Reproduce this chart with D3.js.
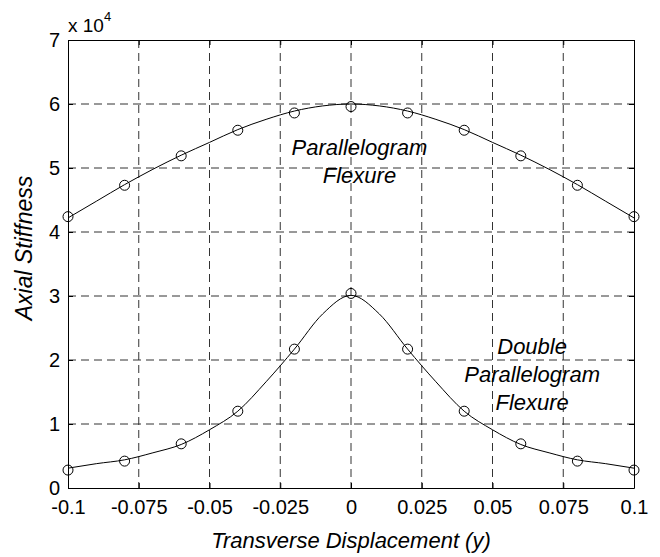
<!DOCTYPE html>
<html>
<head>
<meta charset="utf-8">
<script src="https://cdn.jsdelivr.net/npm/d3@7"></script>
<style>
  body { margin: 0; background: #fff; }
  text { font-family: "Liberation Sans", Arial, sans-serif; fill: #000; }
</style>
</head>
<body>
<svg id="chart" width="660" height="557"></svg>
<script>
// values in units of 10^4
var xTicks = [-0.1, -0.075, -0.05, -0.025, 0, 0.025, 0.05, 0.075, 0.1];
var xTickLabels = ["-0.1", "-0.075", "-0.05", "-0.025", "0", "0.025", "0.05", "0.075", "0.1"];
var yTicks = [0, 1, 2, 3, 4, 5, 6, 7];

// measured points (circles)
var sampleX = [-0.1, -0.08, -0.06, -0.04, -0.02, 0, 0.02, 0.04, 0.06, 0.08, 0.1];
var parallelogramPts = [4.24, 4.73, 5.19, 5.59, 5.86, 5.96, 5.86, 5.59, 5.19, 4.73, 4.24];
var doublePts = [0.28, 0.42, 0.69, 1.20, 2.17, 3.04, 2.17, 1.20, 0.69, 0.42, 0.28];

// model curves (solid lines)
var curveX = [-0.1, -0.09, -0.08, -0.07, -0.06, -0.05, -0.04, -0.03, -0.02, -0.01, 0,
              0.01, 0.02, 0.03, 0.04, 0.05, 0.06, 0.07, 0.08, 0.09, 0.1];
var parallelogramCurve = [4.22, 4.48, 4.74, 4.98, 5.20, 5.40, 5.60, 5.76, 5.89, 5.97, 6.00,
                          5.97, 5.89, 5.76, 5.60, 5.40, 5.20, 4.98, 4.74, 4.48, 4.22];
var doubleCurve = [0.31, 0.38, 0.44, 0.55, 0.68, 0.91, 1.20, 1.66, 2.17, 2.72, 3.01,
                   2.72, 2.17, 1.66, 1.20, 0.91, 0.68, 0.55, 0.44, 0.38, 0.31];

var svg = d3.select("#chart"),
  margin = {top: 40, right: 26, bottom: 69, left: 68},
  width = +svg.attr("width") - margin.left - margin.right,
  height = +svg.attr("height") - margin.top - margin.bottom;

var x = d3.scaleLinear().domain([-0.1, 0.1]).range([0, width]),
  y = d3.scaleLinear().domain([0, 7]).range([height, 0]);

var g = svg.append("g")
  .attr("transform", "translate(" + margin.left + "," + margin.top + ")");

// grid
g.selectAll(".vgrid")
  .data(xTicks.slice(1, -1))
  .enter().append("line")
  .attr("x1", function(d) { return x(d); })
  .attr("x2", function(d) { return x(d); })
  .attr("y1", 0).attr("y2", height)
  .attr("stroke", "#333").attr("stroke-dasharray", "8,5");

g.selectAll(".hgrid")
  .data(yTicks.slice(1, -1))
  .enter().append("line")
  .attr("y1", function(d) { return y(d); })
  .attr("y2", function(d) { return y(d); })
  .attr("x1", 0).attr("x2", width)
  .attr("stroke", "#333").attr("stroke-dasharray", "8,5");

// axes
g.append("g")
  .attr("transform", "translate(0," + height + ")")
  .call(d3.axisBottom(x).tickValues(xTicks).tickSizeInner(-5).tickSizeOuter(0).tickPadding(12)
    .tickFormat(function(d, i) { return xTickLabels[i]; }));

g.append("g")
  .call(d3.axisLeft(y).tickValues(yTicks).tickSizeInner(-5).tickSizeOuter(0).tickPadding(8)
    .tickFormat(d3.format("d")));

g.append("g")
  .call(d3.axisTop(x).tickValues(xTicks).tickSizeInner(-5).tickSizeOuter(0).tickFormat(""));
g.append("g")
  .attr("transform", "translate(" + width + ",0)")
  .call(d3.axisRight(y).tickValues(yTicks).tickSizeInner(-5).tickSizeOuter(0).tickFormat(""));

g.selectAll(".domain").attr("stroke", "#000");
g.selectAll(".tick line").attr("stroke", "#000");
g.selectAll(".tick text")
  .style("font-family", "Liberation Sans, Arial, sans-serif")
  .style("font-size", "20px")
  .attr("fill", "#000");

// exponent label
var expo = g.append("text")
  .attr("x", 0).attr("y", -8)
  .style("font-size", "19px");
expo.append("tspan").text("x 10");
expo.append("tspan").attr("dy", -11).style("font-size", "13px").text("4");

// lines
var line = d3.line()
  .x(function(d) { return x(d[0]); })
  .y(function(d) { return y(d[1]); })
  .curve(d3.curveMonotoneX);

[parallelogramCurve, doubleCurve].forEach(function(vals) {
  g.append("path")
    .datum(curveX.map(function(v, i) { return [v, vals[i]]; }))
    .attr("fill", "none")
    .attr("stroke", "#000")
    .attr("stroke-width", 1)
    .attr("d", line);
});

[parallelogramPts, doublePts].forEach(function(vals) {
  g.selectAll(null)
    .data(sampleX.map(function(v, i) { return [v, vals[i]]; }))
    .enter().append("circle")
    .attr("cx", function(d) { return x(d[0]); })
    .attr("cy", function(d) { return y(d[1]); })
    .attr("r", 5)
    .attr("fill", "none")
    .attr("stroke", "#000");
});

// annotations
function label(lines, cx, baseline) {
  var t = g.append("text")
    .attr("text-anchor", "middle")
    .style("font-size", "22px")
    .style("font-style", "italic");
  lines.forEach(function(s, i) {
    t.append("tspan").attr("x", cx).attr("y", baseline + i * 28).text(s);
  });
}
label(["Parallelogram", "Flexure"], x(0.003), y(5.2));
label(["Double", "Parallelogram", "Flexure"], x(0.064), y(2.1));

// axis titles
g.append("text")
  .attr("x", width / 2).attr("y", height + 60)
  .attr("text-anchor", "middle")
  .style("font-size", "22px").style("font-style", "italic")
  .text("Transverse Displacement (y)");

g.append("text")
  .attr("transform", "translate(" + (-36) + "," + (height / 2 - 16) + ") rotate(-90)")
  .attr("text-anchor", "middle")
  .style("font-size", "23px").style("font-style", "italic")
  .text("Axial Stiffness");
</script>
</body>
</html>
